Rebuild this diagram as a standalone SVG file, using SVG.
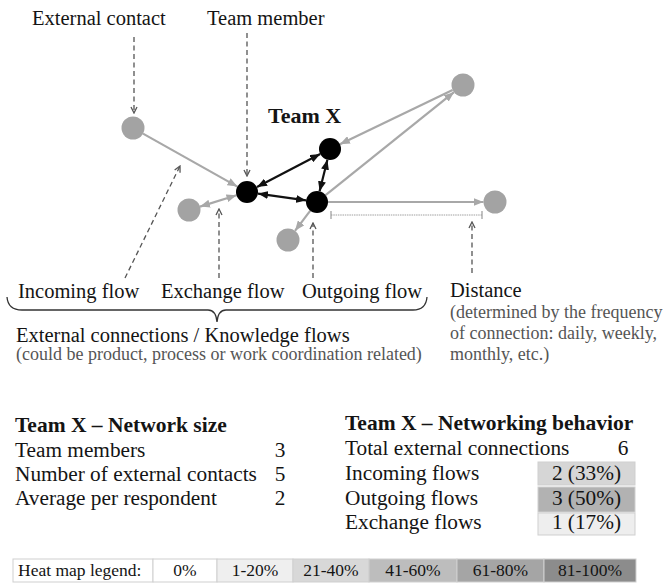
<svg xmlns="http://www.w3.org/2000/svg" width="665" height="583" viewBox="0 0 665 583">
  <style>
    text { font-family: "Liberation Serif", "Times New Roman", serif; fill: #141414; }
    .lbl { font-size: 20.5px; }
    .sub { font-size: 18px; fill: #555; }
    .hd { font-size: 21.5px; font-weight: bold; }
    .row { font-size: 21.3px; }
    .leg { font-size: 17.5px; }
    .ext { fill: #a3a3a3; }
    .mem { fill: #000; }
    .gl { stroke: #a8a8a8; stroke-width: 2.2; fill: none; }
    .bl { stroke: #111; stroke-width: 2.2; fill: none; }
    .note { stroke: #555; stroke-width: 1.3; stroke-dasharray: 5 3.5; fill: none; }
    .cell { stroke: #cfcfcf; stroke-width: 1; }
  </style>
  <defs>
    <marker id="ag" viewBox="0 0 10 8" refX="10" refY="4" markerWidth="10" markerHeight="8" markerUnits="userSpaceOnUse" orient="auto-start-reverse">
      <path d="M0,0 L10,4 L0,8 Z" fill="#a8a8a8"/>
    </marker>
    <marker id="ab" viewBox="0 0 10 8" refX="10" refY="4" markerWidth="10" markerHeight="8" markerUnits="userSpaceOnUse" orient="auto-start-reverse">
      <path d="M0,0 L10,4 L0,8 Z" fill="#111"/>
    </marker>
    <marker id="an" viewBox="0 0 8 8" refX="7" refY="4" markerWidth="8" markerHeight="8" markerUnits="userSpaceOnUse" orient="auto">
      <path d="M1,1 L7,4 L1,7" fill="none" stroke="#555" stroke-width="1.3"/>
    </marker>
    <marker id="tk" viewBox="0 0 2 8" refX="1" refY="4" markerWidth="2" markerHeight="8" markerUnits="userSpaceOnUse" orient="auto">
      <path d="M1,0 L1,8" stroke="#999" stroke-width="1.2"/>
    </marker>
  </defs>

  <!-- knowledge-flow connectors -->
  <g id="connectors">
    <line class="gl" x1="143" y1="133.6" x2="237.4" y2="186.6" marker-end="url(#ag)"/>
    <line class="gl" x1="200" y1="206.6" x2="236.5" y2="195.3" marker-start="url(#ag)" marker-end="url(#ag)"/>
    <line class="bl" x1="257" y1="186.9" x2="320.2" y2="154.1" marker-start="url(#ab)" marker-end="url(#ab)"/>
    <line class="bl" x1="258" y1="193.6" x2="306.1" y2="200.4" marker-start="url(#ab)" marker-end="url(#ab)"/>
    <line class="bl" x1="327.4" y1="159.7" x2="319.6" y2="191.3" marker-start="url(#ab)" marker-end="url(#ab)"/>
    <line class="gl" x1="452.6" y1="90" x2="339.9" y2="144.2" marker-end="url(#ag)"/>
    <line class="gl" x1="325.6" y1="195.1" x2="454" y2="92.2" marker-end="url(#ag)"/>
    <line class="gl" x1="328" y1="202" x2="483.5" y2="202" marker-end="url(#ag)"/>
    <line class="gl" x1="310.3" y1="210.7" x2="295" y2="230.8" marker-end="url(#ag)"/>
    <!-- distance bar -->
    <line x1="331" y1="215" x2="482" y2="215" stroke="#a0a0a0" stroke-width="1" stroke-dasharray="1.5 0.8" marker-start="url(#tk)" marker-end="url(#tk)"/>
  </g>

  <!-- people -->
  <g id="ext-contact"><circle class="ext" cx="133" cy="128" r="11.5"/></g>
  <g id="ext-left"><circle class="ext" cx="189" cy="210" r="11.5"/></g>
  <g id="ext-top-right"><circle class="ext" cx="463" cy="85" r="11.5"/></g>
  <g id="ext-right"><circle class="ext" cx="495" cy="202" r="11.5"/></g>
  <g id="ext-bottom"><circle class="ext" cx="288" cy="240" r="11.5"/></g>
  <g id="member-a"><circle class="mem" cx="247" cy="192" r="11"/></g>
  <g id="member-b"><circle class="mem" cx="330" cy="149" r="11"/></g>
  <g id="member-c"><circle class="mem" cx="317" cy="202" r="11"/></g>

  <text x="268" y="123" style="font-size:22px;font-weight:bold">Team X</text>

  <!-- callouts -->
  <g id="callouts">
    <text class="lbl" x="32" y="25">External contact</text>
    <line class="note" x1="134" y1="37" x2="134" y2="113" marker-end="url(#an)"/>
    <text class="lbl" x="207" y="25">Team member</text>
    <line class="note" x1="247" y1="33" x2="247" y2="176" marker-end="url(#an)"/>
    <line class="note" x1="125" y1="278" x2="180" y2="166" marker-end="url(#an)"/>
    <line class="note" x1="219" y1="278" x2="219" y2="209" marker-end="url(#an)"/>
    <line class="note" x1="313" y1="278" x2="313" y2="223" marker-end="url(#an)"/>
    <line class="note" x1="472" y1="273" x2="472" y2="222" marker-end="url(#an)"/>

    <text class="lbl" x="18" y="298">Incoming flow</text>
    <text class="lbl" x="161" y="298">Exchange flow</text>
    <text class="lbl" x="302" y="298">Outgoing flow</text>
    <text class="lbl" x="450" y="297">Distance</text>

    <path d="M7,297 Q8,310 22,310 L208,310 Q216,310 217,322 Q218,310 226,310 L413,310 Q426,310 427,297" fill="none" stroke="#333" stroke-width="1.3"/>

    <text class="lbl" x="16" y="342">External connections / Knowledge flows</text>
    <text class="sub" x="16" y="360">(could be product, process or work coordination related)</text>
    <text class="sub" x="450" y="318">(determined by the frequency</text>
    <text class="sub" x="450" y="339">of connection: daily, weekly,</text>
    <text class="sub" x="450" y="360">monthly, etc.)</text>
  </g>

  <!-- network size table -->
  <g id="network-size">
    <text class="hd" x="15" y="432">Team X – Network size</text>
    <text class="row" x="15" y="457">Team members</text>
    <text class="row" x="15" y="481">Number of external contacts</text>
    <text class="row" x="15" y="505">Average per respondent</text>
    <text class="row" x="280" y="457" text-anchor="middle">3</text>
    <text class="row" x="280" y="481" text-anchor="middle">5</text>
    <text class="row" x="280" y="505" text-anchor="middle">2</text>
  </g>

  <!-- networking behaviour table -->
  <g id="network-behavior">
    <text class="hd" x="345" y="430">Team X – Networking behavior</text>
    <text class="row" x="345" y="455">Total external connections</text>
    <text class="row" x="623" y="455" text-anchor="middle">6</text>
    <rect class="cell" x="538" y="462" width="97" height="23" fill="#d6d6d6"/>
    <rect class="cell" x="538" y="487" width="97" height="25" fill="#b2b2b2"/>
    <rect class="cell" x="538" y="513" width="97" height="22" fill="#eeeeee"/>
    <text class="row" x="345" y="480">Incoming flows</text>
    <text class="row" x="345" y="505">Outgoing flows</text>
    <text class="row" x="345" y="529">Exchange flows</text>
    <text class="row" x="586.5" y="480" text-anchor="middle">2 (33%)</text>
    <text class="row" x="586.5" y="505" text-anchor="middle">3 (50%)</text>
    <text class="row" x="586.5" y="529" text-anchor="middle">1 (17%)</text>
  </g>

  <!-- heat map legend -->
  <g id="legend">
    <rect class="cell" x="13" y="559" width="140" height="23" fill="#fff"/>
    <rect class="cell" x="153" y="559" width="64" height="23" fill="#fff"/>
    <rect class="cell" x="217" y="559" width="76" height="23" fill="#efefef"/>
    <rect class="cell" x="293" y="559" width="76" height="23" fill="#d8d8d8"/>
    <rect class="cell" x="369" y="559" width="88" height="23" fill="#bdbdbd"/>
    <rect class="cell" x="457" y="559" width="87" height="23" fill="#a5a5a5"/>
    <rect class="cell" x="544" y="559" width="92" height="23" fill="#8c8c8c"/>
    <text class="leg" x="18" y="576">Heat map legend:</text>
    <text class="leg" x="185" y="576" text-anchor="middle">0%</text>
    <text class="leg" x="255" y="576" text-anchor="middle">1-20%</text>
    <text class="leg" x="331" y="576" text-anchor="middle">21-40%</text>
    <text class="leg" x="413" y="576" text-anchor="middle">41-60%</text>
    <text class="leg" x="500.5" y="576" text-anchor="middle">61-80%</text>
    <text class="leg" x="590" y="576" text-anchor="middle">81-100%</text>
  </g>
</svg>
